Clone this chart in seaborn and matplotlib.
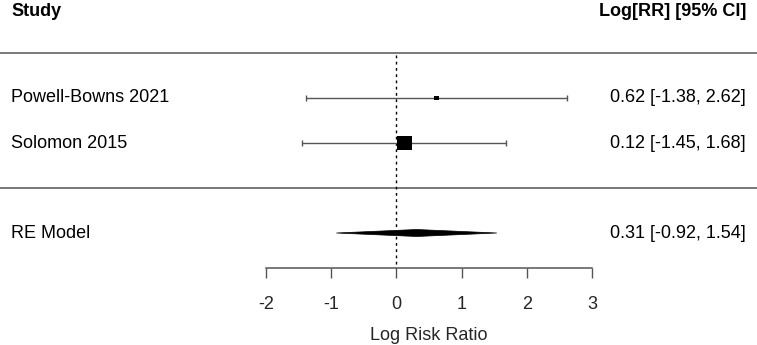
import matplotlib
matplotlib.use("Agg")
import matplotlib.pyplot as plt
from matplotlib.patches import Polygon
import seaborn as sns
import pandas as pd

# ---- data ----
studies = ["Powell-Bowns 2021", "Solomon 2015"]
estimates = [0.62, 0.12]
ci_low = [-1.38, -1.45]
ci_high = [2.62, 1.68]
weights = [1.0, 9.0]          # relative marker area
re_label = "RE Model"
re_est = 0.31
re_low = -0.92
re_high = 1.54
xticks = [-2, -1, 0, 1, 2, 3]
xlabel = "Log Risk Ratio"
header_left = "Study"
header_right = "Log[RR] [95% CI]"

sns.set_theme(style="white")
plt.rcParams["font.family"] = ["Liberation Sans", "DejaVu Sans"]

W, H = 757, 345
fig = plt.figure(figsize=(W / 100, H / 100), dpi=100)
ax = fig.add_axes([0, 0, 1, 1])
ax.set_axis_off()

# pixel -> data mapping for x: -2 at 266 px, 3 at 592 px
px_per_unit = (592 - 266) / 5.0
x_left = -2 - 266 / px_per_unit
x_right = 3 + (W - 592) / px_per_unit
ax.set_xlim(x_left, x_right)
ax.set_ylim(H, 0)

row_y = [98, 143]
re_y = 233
line_col = "#555555"
fs = 13

lx = x_left + 11 / px_per_unit
rx = x_right - 11 / px_per_unit

# header
ax.text(lx, 11, header_left, ha="left", va="center",
        fontsize=fs, fontweight="bold", color="black")
ax.text(rx, 11, header_right, ha="right", va="center",
        fontsize=fs, fontweight="bold", color="black")

# horizontal rules
ax.hlines([53, 188], x_left, x_right, color=line_col, lw=1.1)

# reference line
ax.vlines(0, 55, 268, color="black", lw=1.0, linestyles=(0, (2, 2.5)))

# study rows
tick_h = 3
for y, lo, hi in zip(row_y, ci_low, ci_high):
    ax.hlines(y, lo, hi, color=line_col, lw=1.0)
    ax.vlines([lo, hi], y - tick_h, y + tick_h, color=line_col, lw=1.0)

df = pd.DataFrame({"est": estimates, "y": row_y, "w": weights})
sns.scatterplot(data=df, x="est", y="y", size="w", sizes=(12, 110),
                marker="s", color="black", edgecolor="black", linewidth=0,
                legend=False, ax=ax, zorder=3)

for name, y, e, lo, hi in zip(studies, row_y, estimates, ci_low, ci_high):
    ax.text(lx, y, name, ha="left", va="center",
            fontsize=fs, color="black")
    ax.text(rx, y, f"{e:.2f} [{lo:.2f}, {hi:.2f}]",
            ha="right", va="center", fontsize=fs, color="black")

# RE diamond
dh = 3.5
diamond = Polygon([[re_low, re_y], [re_est, re_y - dh], [re_high, re_y],
                   [re_est, re_y + dh]], closed=True, facecolor="black",
                  edgecolor="black", lw=0.5)
ax.add_patch(diamond)
ax.text(lx, re_y, re_label, ha="left", va="center",
        fontsize=fs, color="black")
ax.text(rx, re_y,
        f"{re_est:.2f} [{re_low:.2f}, {re_high:.2f}]",
        ha="right", va="center", fontsize=fs, color="black")

# bottom axis as a real axes
axb = fig.add_axes([266 / W, (H - 268) / H, (592 - 266) / W, 0.001])
axb.set_xlim(-2, 3)
axb.set_xticks(xticks)
axb.set_xticklabels([str(t) for t in xticks])
axb.set_yticks([])
for s in ["top", "left", "right"]:
    axb.spines[s].set_visible(False)
axb.spines["bottom"].set_color(line_col)
axb.spines["bottom"].set_linewidth(1.1)
axb.tick_params(axis="x", direction="out", length=7, width=1.0,
                color=line_col, labelsize=fs, pad=13, bottom=True)
axb.patch.set_alpha(0)
axb.set_xlabel(xlabel, fontsize=fs, labelpad=10)

fig.savefig("out.png", dpi=100)
